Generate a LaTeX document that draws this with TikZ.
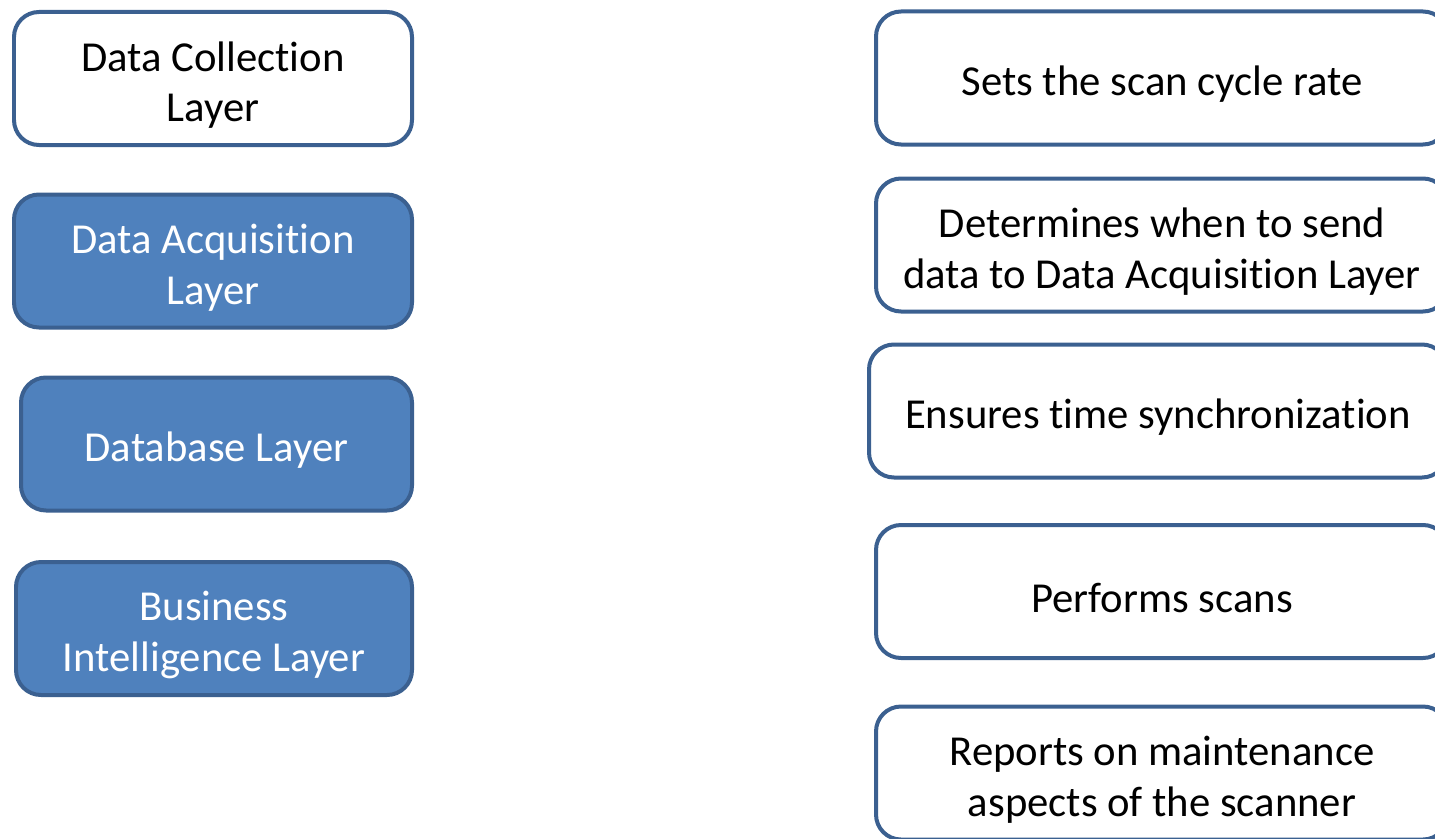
\documentclass[tikz,border=0pt]{standalone}
\usepackage{fontspec}
\setmainfont{Carlito}[Ligatures=NoCommon]
\usetikzlibrary{positioning}
\definecolor{boxline}{HTML}{3B6090}
\definecolor{boxfill}{HTML}{4F81BD}
\newcommand{\firstline}{\rule{0pt}{1em}}

\begin{document}
\begin{tikzpicture}[
		x=0.02cm, y=-0.02cm,
		box/.style={draw=boxline, line width=0.08cm, rounded corners=0.5cm, align=center,
			font=\fontsize{24.3}{28.8}\selectfont, inner sep=0pt,
			execute at begin node={\rule{0pt}{0.98em}}},
		plain/.style={box, fill=white, text=black},
		layer/.style={box, fill=boxfill, text=white},
		leftbox/.style={minimum height=133*0.02cm},
		rightbox/.style={plain, minimum width=572*0.02cm, minimum height=133*0.02cm}
		]
		
		\useasboundingbox (0,0) rectangle (1435,838);
		\clip (0,0) rectangle (1435,838);
		
		% --------------------------------------------------
		% Left column: layers
		% --------------------------------------------------
		\node[plain, leftbox, minimum width=398*0.02cm] (dcl) at (213,78.5) {\firstline Data Collection\\Layer};
		\node[layer, leftbox, minimum width=398*0.02cm] (dal) at (213,261) {\firstline Data Acquisition\\Layer};
		\node[layer, leftbox, minimum width=391*0.02cm] (dbl) at (216.5,444) {Database Layer};
		\node[layer, leftbox, minimum width=396*0.02cm] (bil) at (214,628.5) {\firstline Business\\Intelligence Layer};
		
		% --------------------------------------------------
		% Right column: tasks
		% --------------------------------------------------
		\node[rightbox] (rate) at (1162,78) {Sets the scan cycle rate};
		\node[rightbox] (send) at (1162,245) {\firstline Determines when to send\\data to Data Acquisition Layer};
		\node[rightbox, minimum width=578*0.02cm] (sync) at (1158,411) {Ensures time synchronization};
		\node[rightbox] (scan) at (1162,591.5) {Performs scans};
		\node[rightbox] (maint) at (1162,773) {\firstline Reports on maintenance\\aspects of the scanner};
		
	\end{tikzpicture}
\end{document}
